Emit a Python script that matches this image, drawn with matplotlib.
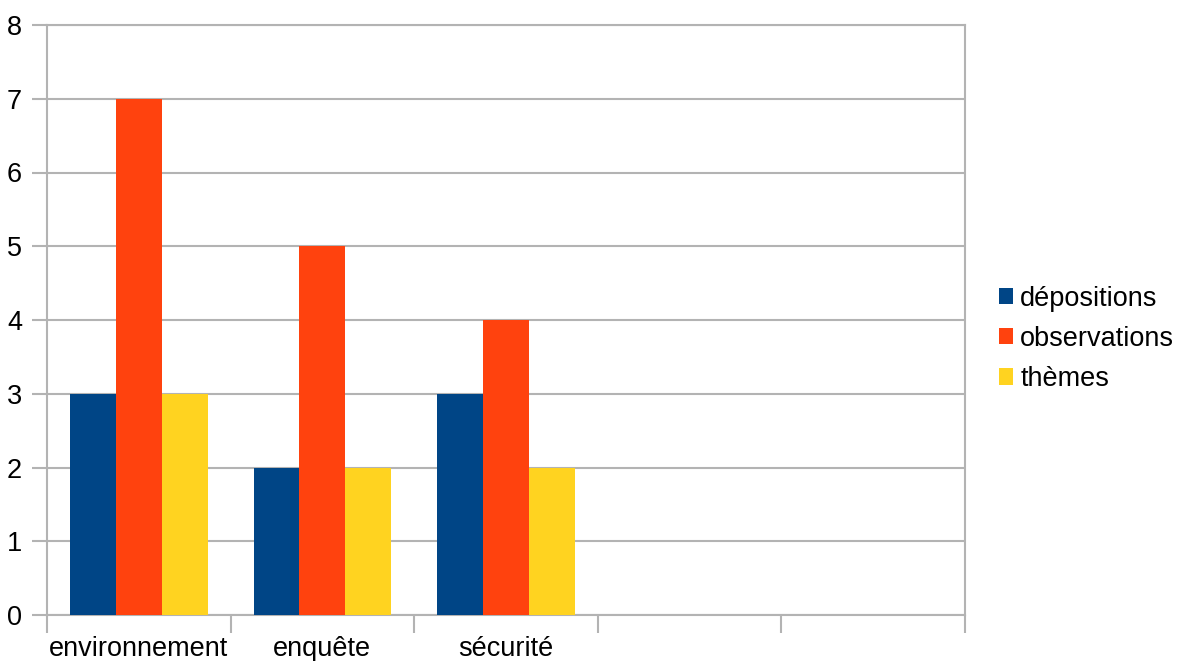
import matplotlib
matplotlib.use("Agg")
import matplotlib.pyplot as plt
import numpy as np

categories = ["environnement", "enquête", "sécurité", "", ""]
depositions = [3, 2, 3]
observations = [7, 5, 4]
themes = [3, 2, 2]

series = [
    ("dépositions", depositions, "#004586"),
    ("observations", observations, "#ff420e"),
    ("thèmes", themes, "#ffd320"),
]

plt.rcParams["font.family"] = ["Liberation Sans", "DejaVu Sans"]
grid_col = "#b3b3b3"

fig = plt.figure(figsize=(11.88, 6.61), dpi=100)
ax = fig.add_axes([47 / 1188, 46 / 661, 918 / 1188, 590 / 661])

width = 0.25
for k, (label, vals, color) in enumerate(series):
    x = np.arange(len(vals)) + (k - 1) * width
    ax.bar(x, vals, width, color=color, label=label, zorder=3)

ax.set_xlim(-0.5, len(categories) - 0.5)
ax.set_ylim(0, 8)
ax.set_yticks(range(0, 9))
ax.yaxis.grid(True, color=grid_col, linewidth=1.5, zorder=0)

ax.set_xticks(range(len(categories)))
ax.set_xticklabels(categories)
ax.set_xticks(np.arange(-0.5, len(categories)), minor=True)
ax.tick_params(axis="x", which="major", length=0, pad=15, labelsize=19.5)
ax.tick_params(axis="x", which="minor", length=13, width=1.5, color=grid_col)
ax.tick_params(axis="y", length=11, width=1.5, color=grid_col, pad=7, labelsize=19.5)

for sp in ax.spines.values():
    sp.set_color(grid_col)
    sp.set_linewidth(1.5)

ax.legend(loc="center left", bbox_to_anchor=(1.01, 0.468), frameon=False,
          fontsize=19.5, handlelength=0.55, handleheight=0.55, handletextpad=0.25,
          labelspacing=0.52)

fig.savefig("out.png", dpi=100)
